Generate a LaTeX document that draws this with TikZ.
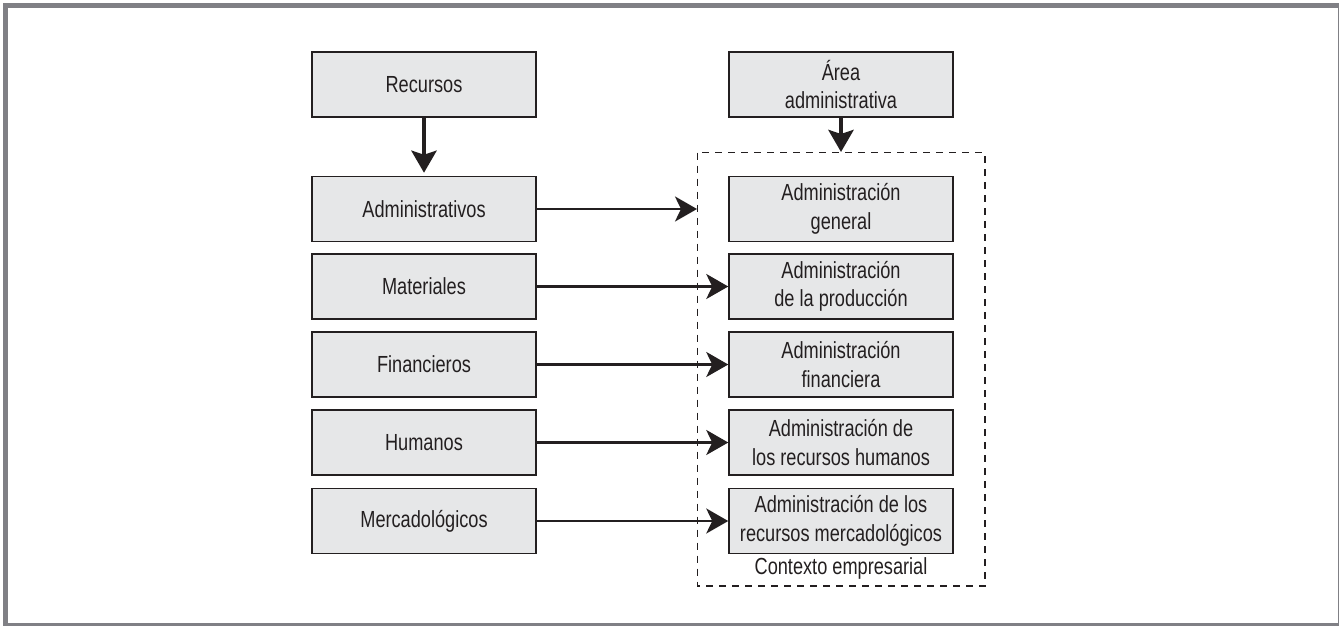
\documentclass[tikz,border=0pt]{standalone}
\usepackage{fontspec}
\setmainfont{Liberation Sans}[FakeStretch=0.78]
\usetikzlibrary{arrows.meta}
\definecolor{frame}{HTML}{808085}
\definecolor{boxfill}{HTML}{E6E7E8}
\definecolor{ink}{HTML}{231F20}
\tikzset{
  box/.style={draw=ink, line width=1.5pt, fill=boxfill, minimum width=224pt, minimum height=65pt,
    inner sep=0pt, align=center, text=ink, font=\fontsize{23.3}{28.5}\selectfont},
  thin arrow/.style={draw=ink, line width=2.4pt, -{Stealth[length=22pt,width=25pt,inset=6pt]}},
  thick arrow/.style={draw=ink, line width=4.7pt, -{Stealth[length=22pt,width=25pt,inset=4pt]}},
  lbl/.style={text=ink, font=\fontsize{23.3}{28.5}\selectfont, inner sep=0pt}
}
\begin{document}
\begin{tikzpicture}[x=1pt,y=-1pt]
\useasboundingbox (0,0) rectangle (1339,626);
\fill[frame] (3.3,3.3) rectangle (1339,626);
\fill[white] (8.3,8.3) rectangle (1337.5,623);
% left column
\node[box] (rec) at (424,84.5) {Recursos};
\node[box] (adm) at (424,209) {Administrativos};
\node[box] (mat) at (424,286.5) {Materiales};
\node[box] (fin) at (424,364.5) {Financieros};
\node[box] (hum) at (424,442.5) {Humanos};
\node[box] (mer) at (424,521) {Mercadológicos};
% right column
\node[box] (area) at (841,84.5) {Área\\administrativa};
\node[box] (ag) at (841,209) {Administración\\general};
\node[box] (ap) at (841,286.5) {Administración\\de la producción};
\node[box] (af) at (841,364.5) {Administración\\financiera};
\node[box] (ah) at (841,442.5) {Administración de\\los recursos humanos};
\node[box] (am) at (841,521) {Administración de los\\recursos mercadológicos};
\node[lbl] (ctx) at (841,568) {Contexto empresarial};
% dashed context
\draw[ink, line width=1.3pt, dash pattern=on 7pt off 6pt] (697.7,152.7) rectangle (985,586);
\coordinate (ctxw) at (697,209);
\coordinate (ctxn) at (841,152);
% arrows
\draw[thick arrow] (rec.south) -- ++(0,55);
\draw[thick arrow] (area.south) -- (ctxn);
\draw[thin arrow] (adm.east) -- (ctxw);
\draw[thin arrow] (mat.east) -- (ap.west);
\draw[thin arrow] (fin.east) -- (af.west);
\draw[thin arrow] (hum.east) -- (ah.west);
\draw[thin arrow] (mer.east) -- (am.west);
\end{tikzpicture}
\end{document}
